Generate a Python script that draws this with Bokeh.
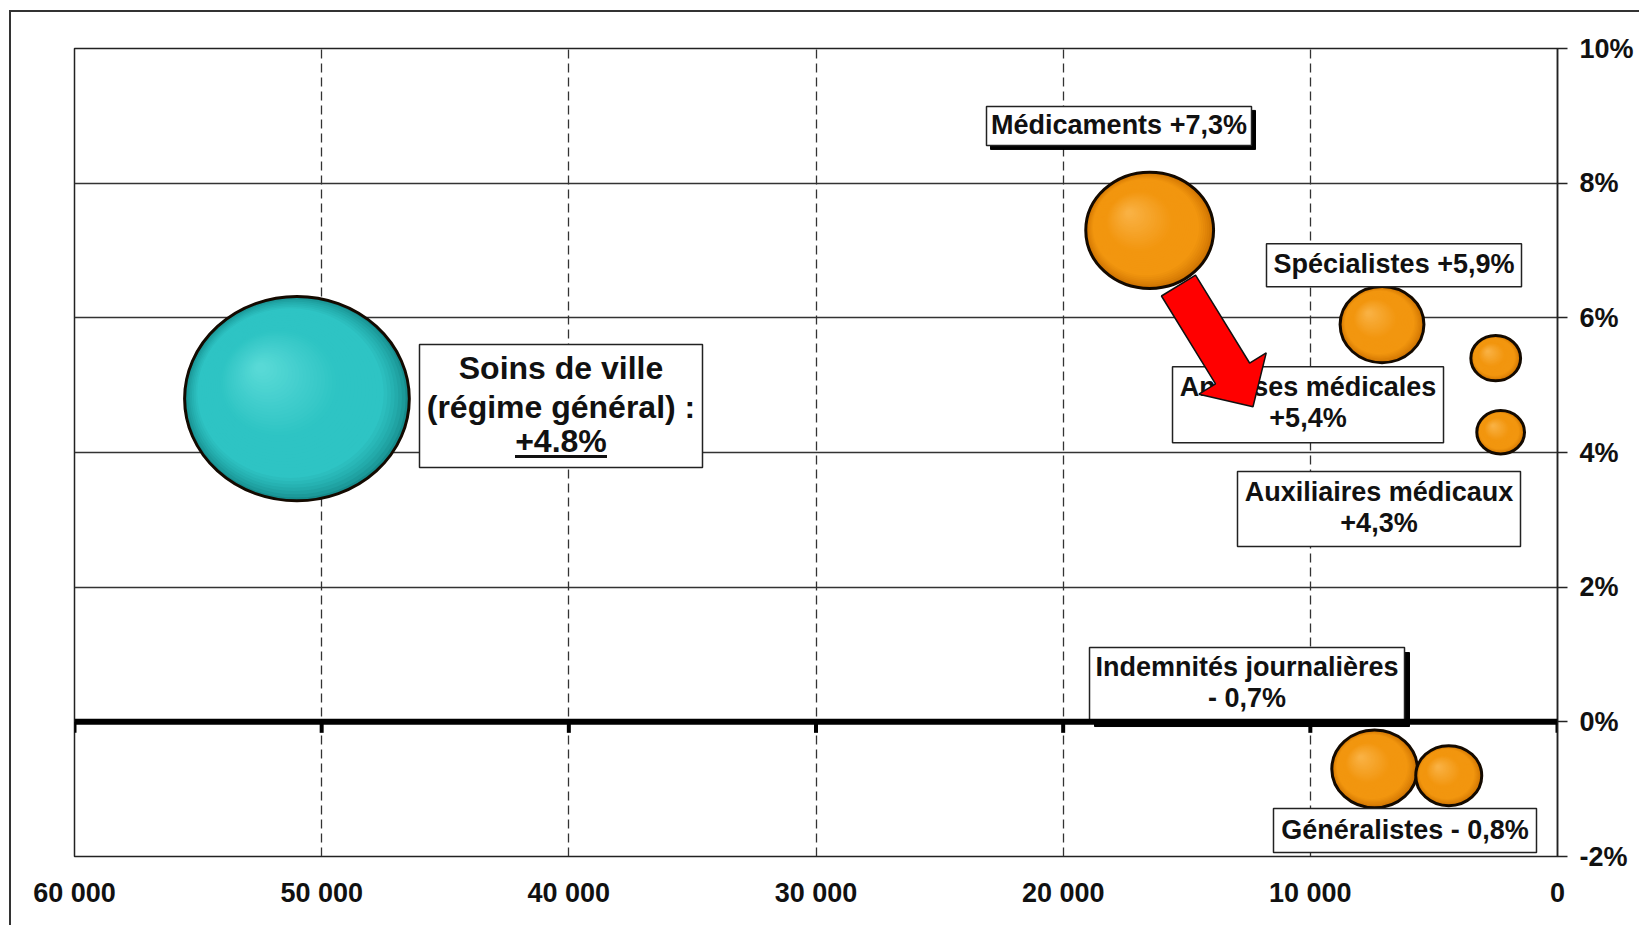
import numpy as np
from bokeh.plotting import figure
from bokeh.models import Range1d, FixedTicker, Span
from bokeh.embed import file_html
from bokeh.resources import INLINE
from bokeh.core.properties import value

# ---------------- data ----------------
categories = ["Soins de ville (régime général)", "Médicaments", "Spécialistes",
              "Analyses médicales", "Auxiliaires médicaux",
              "Indemnités journalières", "Généralistes"]
amounts = [51000, 16500, 7100, 2500, 2300, 7400, 4400]      # x position and bubble area
growth = [4.8, 7.3, 5.9, 5.4, 4.3, -0.7, -0.8]               # % growth (y)
label_lines = [
    ["Soins de ville", "(régime général) :", "+4.8%"],
    ["Médicaments +7,3%"],
    ["Spécialistes +5,9%"],
    ["Analyses médicales", "+5,4%"],
    ["Auxiliaires médicaux", "+4,3%"],
    ["Indemnités journalières", "- 0,7%"],
    ["Généralistes - 0,8%"],
]
x_ticks = [60000, 50000, 40000, 30000, 20000, 10000, 0]
x_tick_labels = ["60 000", "50 000", "40 000", "30 000", "20 000", "10 000", "0"]
y_ticks = [-2, 0, 2, 4, 6, 8, 10]
y_tick_labels = ["-2%", "0%", "2%", "4%", "6%", "8%", "10%"]

# ---------------- layout / style ----------------
W, H = 1639, 925
FL, FR, FT, FB = 74, 1557, 48, 856
X0, X1, Y0, Y1 = 60000, 0, -2, 10
PXX = (FR - FL) / (X0 - X1)
PXY = (FB - FT) / (Y1 - Y0)

def dx(px):  # screen px to the right -> data delta (reversed axis)
    return -px / PXX

def dy(py):  # screen px downwards -> data delta
    return -py / PXY

# callout positions (data coords of box centres) and box styles
label_pos = [(40317, 4.69), (17741, 8.85), (6615, 6.78), (10094, 4.71),
             (7222, 3.16), (12562, 0.554), (6170, -1.614)]
box_size = [(283, 123), (265, 39), (255, 43), (271, 76), (283, 75), (315, 74), (263, 44)]
box_shadow = [0, 4, 0, 0, 0, 5, 0]
# desired baselines relative to the box centre (px, downwards)
baseline_offsets = {1: [8.5], 2: [-8, 23], 3: [-26.5, 12.5, 46.5]}
arrow_from = (15334, 6.48)
arrow_to = (12320, 4.68)

TEAL = ("#168c8c", "#2ec4c4", "#58d9d6")
ORANGE = ("#c96e00", "#f2960f", "#f9b143")
bubble_colors = [TEAL] + [ORANGE] * 6

FONT = "Liberation Sans"
LABEL_FS = 27
TOTAL_FS = 32
TICK_FS = "27px"

p = figure(width=W, height=H, output_backend="svg", toolbar_location=None,
           x_range=Range1d(X0, X1), y_range=Range1d(Y0, Y1),
           y_axis_location="right", x_axis_location="below",
           min_border_left=FL, min_border_right=W - FR,
           min_border_top=FT, min_border_bottom=H - FB)
p.border_fill_color = None
p.background_fill_color = "white"
p.outline_line_color = "#222222"
p.outline_line_width = 1.5
p.styles = {"background": "linear-gradient(#333,#333) 9px 10px / 2px 915px no-repeat, "
                          "linear-gradient(#333,#333) 9px 10px / 1630px 2px no-repeat, #ffffff"}

# axes
xax = p.xaxis[0]
xax.ticker = FixedTicker(ticks=x_ticks)
xax.major_label_overrides = {t: l for t, l in zip(x_ticks, x_tick_labels)}
xax.axis_line_color = None
xax.major_tick_line_color = None
xax.minor_tick_line_color = None
xax.major_tick_out = 0
xax.major_tick_in = 0
xax.major_label_standoff = 21
yax = p.yaxis[0]
yax.ticker = FixedTicker(ticks=y_ticks)
yax.major_label_overrides = {t: l for t, l in zip(y_ticks, y_tick_labels)}
yax.axis_line_color = "#222222"
yax.axis_line_width = 1.5
yax.major_tick_line_color = "#222222"
yax.major_tick_line_width = 1.5
yax.major_tick_out = 10
yax.major_tick_in = 0
yax.minor_tick_line_color = None
yax.major_label_standoff = 12
for ax in (xax, yax):
    ax.major_label_text_font = FONT
    ax.major_label_text_font_style = "bold"
    ax.major_label_text_font_size = TICK_FS
    ax.major_label_text_color = "#111111"

p.xgrid.ticker = FixedTicker(ticks=x_ticks)
p.xgrid.grid_line_color = "#333333"
p.xgrid.grid_line_width = 1.3
p.xgrid.grid_line_dash = "9 5"
p.ygrid.ticker = FixedTicker(ticks=y_ticks)
p.ygrid.grid_line_color = "#333333"
p.ygrid.grid_line_width = 1.3


def hex2rgb(c):
    c = c.lstrip("#")
    return np.array([int(c[i:i + 2], 16) for i in (0, 2, 4)], dtype=float)


def blend(c1, c2, t):
    r = hex2rgb(c1) * (1 - t) + hex2rgb(c2) * t
    return "#%02x%02x%02x" % tuple(int(round(v)) for v in r)


# bubbles with a simulated radial gradient
N = 40
for a, g, (edge, body, hl) in zip(amounts, growth, bubble_colors):
    w = 0.995 * np.sqrt(a)
    h = 0.91 * w
    ts = np.linspace(0, 1, N)
    xs, ys, ws, hs, cs = [], [], [], [], []
    for t in ts:
        s = 1 - 0.95 * t
        ox = -0.32 * t * w / 2
        oy = -0.30 * t * h / 2
        xs.append(a + dx(ox))
        ys.append(g + dy(oy))
        ws.append(w * s)
        hs.append(h * s)
        if t < 0.18:
            cs.append(blend(edge, body, (t / 0.18) ** 0.7))
        elif t < 0.5:
            cs.append(body)
        else:
            cs.append(blend(body, hl, (t - 0.5) / 0.5))
    p.ellipse(x=xs, y=ys, width=ws, height=hs, width_units="screen", height_units="screen",
              fill_color=cs, line_color=None)
    p.ellipse(x=[a], y=[g], width=[w], height=[h], width_units="screen", height_units="screen",
              fill_color=None, line_color="#140a00", line_width=3)

# tick marks on the zero line
p.rect(x=x_ticks, y=[0 + dy(5.5)] * len(x_ticks), width=4, height=11,
       width_units="screen", height_units="screen", fill_color="black", line_color=None)

# callout boxes
for (lx, ly), (bw, bh), sh in zip(label_pos, box_size, box_shadow):
    if sh:
        p.rect(x=[lx + dx(sh)], y=[ly + dy(sh)], width=bw, height=bh,
               width_units="screen", height_units="screen", fill_color="black", line_color="black")
    p.rect(x=[lx], y=[ly], width=bw, height=bh, width_units="screen", height_units="screen",
           fill_color="white", line_color="#222222", line_width=1.5)

# texts (middle baseline: centre sits ~0.3465 em above the alphabetic baseline)
for i, ((lx, ly), lines) in enumerate(zip(label_pos, label_lines)):
    fs = TOTAL_FS if i == 0 else LABEL_FS
    offs = [b - 0.3465 * fs for b in baseline_offsets[len(lines)]]
    for line, off in zip(lines, offs):
        p.text(x=[lx], y=[ly], text=[line], y_offset=off,
               text_font=value(FONT), text_font_style="bold", text_font_size="%dpx" % fs,
               text_align="center", text_baseline="middle", text_color="#111111")

# underline of the total
ux, uy = label_pos[0]
p.rect(x=[ux], y=[uy + dy(50.5)], width=92, height=3, width_units="screen", height_units="screen",
       fill_color="#111111", line_color=None)

# red arrow (built in screen px, mapped back to data)
vx = (arrow_to[0] - arrow_from[0]) * -PXX
vy = (arrow_to[1] - arrow_from[1]) * -PXY
L = np.hypot(vx, vy)
u = np.array([vx, vy]) / L
n = np.array([-u[1], u[0]])
sw, hw, hl_ = 20, 39.5, 39
base = L - hl_
pts = [sw * n, base * u + sw * n, base * u + hw * n, L * u,
       base * u - hw * n, base * u - sw * n, -sw * n]
p.patch(x=[arrow_from[0] + dx(pt[0]) for pt in pts], y=[arrow_from[1] + dy(pt[1]) for pt in pts],
        fill_color="#ff0000", line_color="#111111", line_width=1.5)

# thick zero line
p.add_layout(Span(location=0, dimension="width", line_color="black", line_width=6))

open("out.html", "w").write(file_html(p, INLINE))
